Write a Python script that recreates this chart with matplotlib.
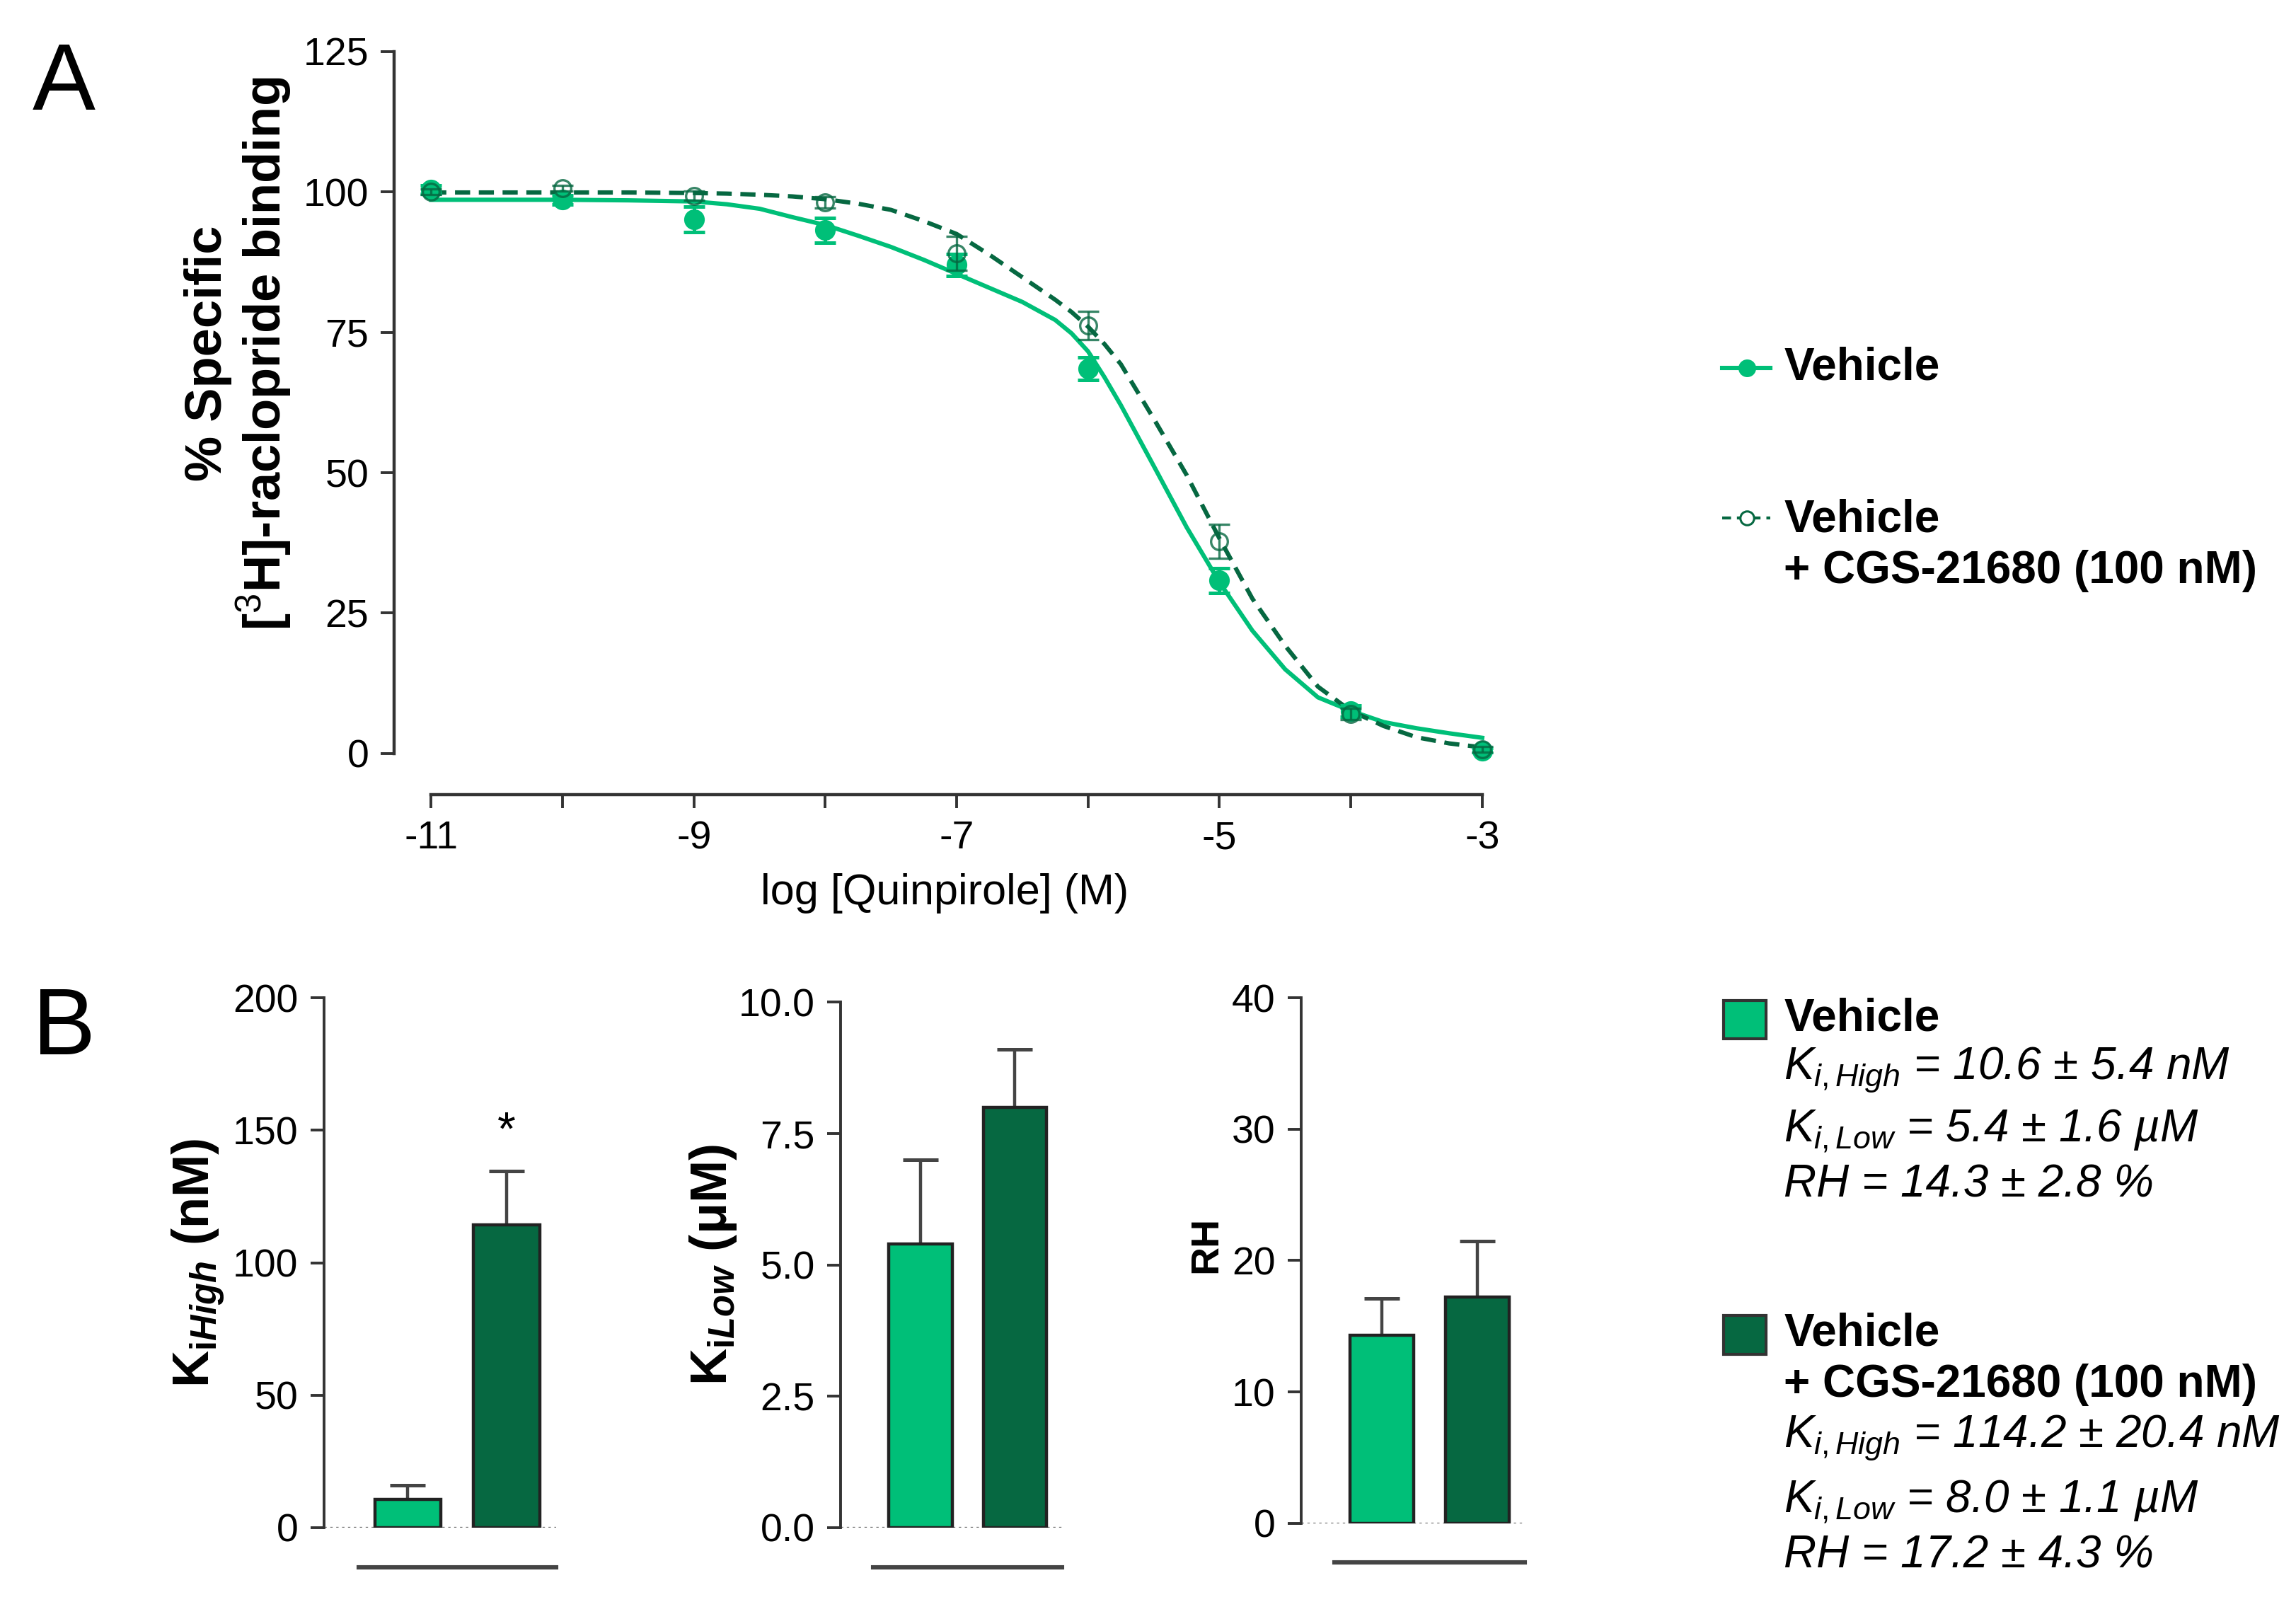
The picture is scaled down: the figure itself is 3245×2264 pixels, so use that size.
import numpy as np
import matplotlib.pyplot as plt
from matplotlib.lines import Line2D
from matplotlib.patches import Rectangle

# ---- panel A data ----
log_conc = [-11, -10, -9, -8, -7, -6, -5, -4, -3]
veh_mean = [100.4, 98.6, 95.1, 93.2, 87.0, 68.5, 30.8, 7.5, 0.5]
veh_sem = [0.8, 0.8, 2.3, 2.2, 2.0, 2.0, 2.2, 1.0, 0.5]
cgs_mean = [100.0, 100.6, 99.3, 98.1, 89.1, 76.2, 37.8, 7.0, 0.8]
cgs_sem = [0.5, 0.5, 0.8, 1.0, 3.0, 2.5, 3.0, 1.0, 0.5]

fit_x = [-11, -10.5, -10, -9.5, -9, -8.75, -8.5, -8.25, -8, -7.75, -7.5, -7.25, -7,
         -6.75, -6.5, -6.25, -6.125, -6, -5.875, -5.75, -5.5, -5.25, -5, -4.75, -4.5,
         -4.25, -4, -3.75, -3.5, -3.25, -3]
veh_fit = [98.6, 98.6, 98.6, 98.5, 98.3, 97.8, 97.0, 95.5, 94.1, 92.2, 90.2, 87.9, 85.4,
           82.9, 80.4, 77.2, 74.8, 71.6, 67.0, 62.0, 51.2, 40.3, 30.5, 21.9, 15.0,
           10.0, 7.6, 5.6, 4.5, 3.6, 2.8]
cgs_fit = [99.9, 99.9, 99.9, 99.9, 99.8, 99.7, 99.5, 99.2, 98.7, 97.9, 96.8, 94.8, 92.5,
           88.8, 84.8, 80.8, 78.6, 76.0, 72.9, 69.3, 59.6, 49.6, 38.3, 27.6, 19.2,
           11.9, 7.6, 4.9, 2.9, 1.8, 1.1]

# ---- panel B data ----
groups = ['Vehicle', 'Vehicle + CGS-21680 (100 nM)']
ki_high = [10.6, 114.2]
ki_high_sem = [5.4, 20.4]
ki_low = [5.4, 8.0]
ki_low_sem = [1.6, 1.1]
rh = [14.3, 17.2]
rh_sem = [2.8, 4.3]

light = '#00BF78'
dark = '#066841'
axcol = '#333333'

plt.rcParams['font.family'] = ['Liberation Sans', 'DejaVu Sans']
plt.rcParams['axes.unicode_minus'] = False
plt.rcParams['mathtext.fontset'] = 'custom'
plt.rcParams['mathtext.rm'] = 'Liberation Sans'
plt.rcParams['mathtext.it'] = 'Liberation Sans:italic'
plt.rcParams['mathtext.bf'] = 'Liberation Sans:bold'
plt.rcParams['mathtext.bfit'] = 'Liberation Sans:bold:italic'

W, H = 1560.0, 1088.5
def fx(d):
    return d / W
def fy(d):
    return 1 - d / H

fig = plt.figure(figsize=(16.225, 11.32), dpi=200)

# ================= panel A =================
axA = fig.add_axes([fx(268), fy(512), fx(1016) - fx(268), fy(35) - fy(512)])
axA.plot(fit_x, veh_fit, color=light, lw=2.2, clip_on=False, zorder=3)
axA.plot(fit_x, cgs_fit, color=dark, lw=2.2, ls=(0, (3.5, 2)), clip_on=False, zorder=4)
eb1 = axA.errorbar(log_conc, veh_mean, yerr=veh_sem, fmt='o', color=light, ms=9.5,
                   capsize=5.5, elinewidth=1.8, capthick=1.8, zorder=5)
eb2 = axA.errorbar(log_conc, cgs_mean, yerr=cgs_sem, fmt='o', color=dark, mfc='none',
                   mec=dark, ms=8.5, mew=1.2, capsize=5.5, elinewidth=1.2, capthick=1.2,
                   alpha=0.8, zorder=6)
for eb in (eb1, eb2):
    eb.lines[0].set_clip_on(False)
axA.set_xlim(-11.28, -2.9)
axA.set_ylim(0, 125)
axA.set_yticks([0, 25, 50, 75, 100, 125])
axA.set_xticks([-11, -9, -7, -5, -3])
axA.set_xticks([-10, -8, -6, -4], minor=True)
axA.spines['top'].set_visible(False)
axA.spines['right'].set_visible(False)
axA.spines['bottom'].set_position(('outward', 21))
axA.spines['bottom'].set_bounds(-11, -3)
for s in ('left', 'bottom'):
    axA.spines[s].set_linewidth(1.6)
    axA.spines[s].set_color(axcol)
axA.tick_params(which='both', direction='out', length=7, width=1.4, color=axcol,
                labelsize=20, pad=6)
axA.set_xlabel('log [Quinpirole] (M)', fontsize=22, labelpad=8)
axA.set_ylabel('% Specific\n[$^3$H]-raclopride binding', fontsize=26,
               fontweight='bold', linespacing=1.05)
axA.yaxis.set_label_coords(-0.092, 0.57)

fig.text(fx(22), fy(58), 'A', fontsize=48, va='center', ha='left')
fig.text(fx(22), fy(700), 'B', fontsize=48, va='center', ha='left')

# legend A
fig.add_artist(Line2D([fx(1170), fx(1203)], [fy(250), fy(250)], color=light, lw=2.2))
fig.add_artist(Line2D([fx(1187)], [fy(250)], marker='o', ms=8, color=light))
fig.add_artist(Line2D([fx(1170), fx(1203)], [fy(352), fy(352)], color=dark, lw=1.5,
                      ls=(0, (3, 2))))
fig.add_artist(Line2D([fx(1187)], [fy(352)], marker='o', ms=7, mfc='white', mec=dark,
                      mew=1.1))
tx = 1212
fig.text(fx(tx), fy(250), 'Vehicle', fontsize=23, fontweight='bold', va='center')
fig.text(fx(tx), fy(353), 'Vehicle', fontsize=23, fontweight='bold', va='center')
fig.text(fx(tx), fy(388), '+ CGS-21680 (100 nM)', fontsize=23, fontweight='bold',
         va='center')

# ================= panel B =================
xpos = [0, 1]
bar_specs = [
    ([fx(220), fy(1038), fx(377.75) - fx(220), fy(678) - fy(1038)], ki_high, ki_high_sem,
     (0, 200), [0, 50, 100, 150, 200], '{:.0f}',
     r'$\mathbf{K}_{\mathbf{i}\mathbfit{High}}$ (nM)', 26, (-0.42, 0.5)),
    ([fx(571), fy(1038), fx(721.5) - fx(571), fy(681) - fy(1038)], ki_low, ki_low_sem,
     (0, 10), [0, 2.5, 5, 7.5, 10], '{:.1f}',
     r'$\mathbf{K}_{\mathbf{i}\mathbfit{Low}}$ ($\mathbf{\mu}$M)', 26, (-0.46, 0.5)),
    ([fx(884), fy(1035), fx(1036) - fx(884), fy(678) - fy(1035)], rh, rh_sem,
     (0, 40), [0, 10, 20, 30, 40], '{:.0f}', 'RH', 20, (-0.34, 0.53)),
]
axesB = []
for rect, vals, sems, ylim, ticks, fmt, ylabel, lsize, lcoords in bar_specs:
    ax = fig.add_axes(rect)
    ax.axhline(0, color='#777777', lw=1.2, ls=(0, (1, 1.5)), zorder=0)
    ax.bar(xpos, vals, width=0.67, color=[light, dark], edgecolor='#222222', lw=1.6,
           zorder=2)
    ax.errorbar(xpos, vals, yerr=[[0, 0], sems], fmt='none', ecolor='#444444',
                elinewidth=1.6, capsize=9, capthick=1.8, zorder=1)
    ax.set_xlim(-0.85, 1.5)
    ax.set_ylim(*ylim)
    ax.set_yticks(ticks)
    ax.set_yticklabels([fmt.format(t) for t in ticks])
    ax.set_xticks([])
    ax.spines['top'].set_visible(False)
    ax.spines['right'].set_visible(False)
    ax.spines['bottom'].set_position(('outward', 20))
    ax.spines['bottom'].set_bounds(-0.5, 1.5)
    ax.spines['bottom'].set_linewidth(2.2)
    ax.spines['bottom'].set_color('#444444')
    ax.spines['left'].set_linewidth(1.4)
    ax.spines['left'].set_color(axcol)
    ax.tick_params(axis='y', direction='out', length=7, width=1.4, color=axcol,
                   labelsize=20, pad=6)
    ax.set_ylabel(ylabel, fontsize=lsize, fontweight='bold')
    ax.yaxis.set_label_coords(*lcoords)
    axesB.append(ax)

axesB[0].text(1, 141, '*', ha='center', va='bottom', fontsize=24)

# legend B
fig.add_artist(Rectangle((fx(1171), fy(706)), fx(1200) - fx(1171), fy(680) - fy(706),
                         facecolor=light, edgecolor='#333333', lw=1.5))
fig.add_artist(Rectangle((fx(1171), fy(920)), fx(1200) - fx(1171), fy(894) - fy(920),
                         facecolor=dark, edgecolor='#333333', lw=1.5))
legB = [
    (692, 'Vehicle', 'bold', 'normal'),
    (727, r'$K_{i,High}$ = 10.6 ± 5.4 nM', 'normal', 'italic'),
    (768, r'$K_{i,Low}$ = 5.4 ± 1.6 µM', 'normal', 'italic'),
    (805, 'RH = 14.3 ± 2.8 %', 'normal', 'italic'),
    (906, 'Vehicle', 'bold', 'normal'),
    (941, '+ CGS-21680 (100 nM)', 'bold', 'normal'),
    (977, r'$K_{i,High}$ = 114.2 ± 20.4 nM', 'normal', 'italic'),
    (1020, r'$K_{i,Low}$ = 8.0 ± 1.1 µM', 'normal', 'italic'),
    (1057, 'RH = 17.2 ± 4.3 %', 'normal', 'italic'),
]
for yy, txt, wt, st in legB:
    fig.text(fx(tx), fy(yy), txt, fontsize=23, fontweight=wt, fontstyle=st,
             va='center')

fig.savefig('out.png', dpi=200)
